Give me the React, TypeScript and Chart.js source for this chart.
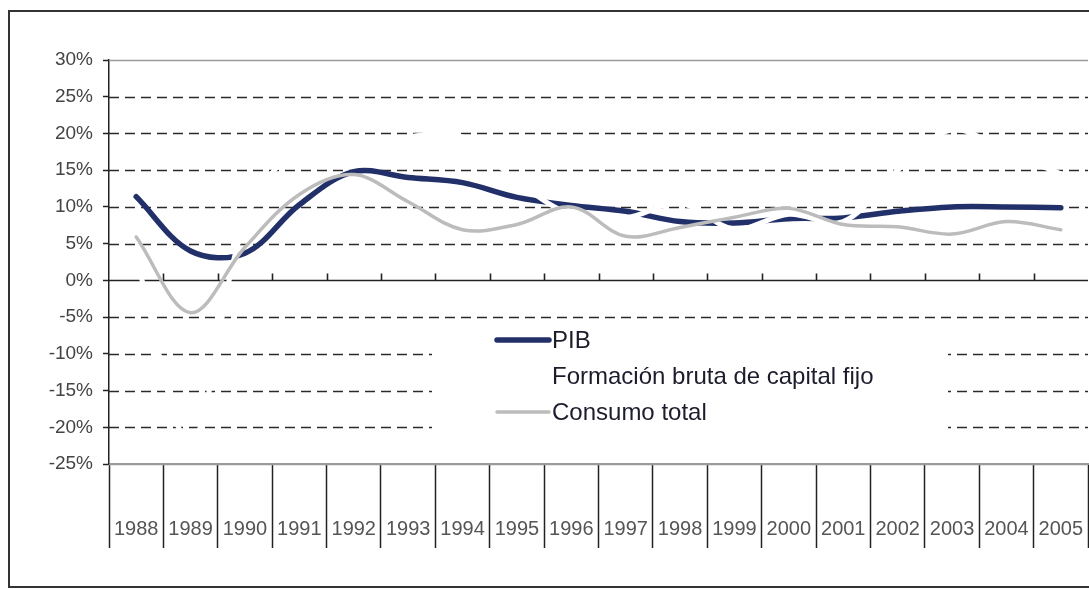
import { useEffect, useRef } from 'react';
import { Chart, registerables } from 'chart.js';

Chart.register(...registerables);

const years = ['1988', '1989', '1990', '1991', '1992', '1993', '1994', '1995', '1996', '1997', '1998', '1999', '2000', '2001', '2002', '2003', '2004', '2005'];
const pib = [11.4, 4.0, 3.7, 10.3, 14.8, 14.0, 13.3, 11.3, 10.2, 9.4, 8.0, 7.8, 8.4, 8.5, 9.4, 10.0, 10.0, 9.9];
const fbcf = [3, -22, 8, 18, 17, 19.5, 19.5, 13.5, 9, 8.5, 10.5, 7, 9, 8, 15, 20.5, 17.5, 14.5];
const consumo = [5.9, -4.4, 4.5, 11.7, 14.4, 10.7, 6.9, 7.6, 10.0, 6.0, 7.2, 8.6, 9.8, 7.6, 7.3, 6.3, 8.0, 6.9];
const yTicks = [30, 25, 20, 15, 10, 5, 0, -5, -10, -15, -20, -25];
const seriesNames = ['PIB', 'Formación bruta de capital fijo', 'Consumo total'];
const seriesColors = ['#22306a', '#ffffff', '#bcbcbc'];
const seriesWidths = [5.5, 5, 3.5];

const FONT = "'Liberation Sans', Arial, sans-serif";

const decor = {
  id: 'decor',
  beforeDraw(chart: any) {
    const ctx = chart.ctx;
    ctx.save();
    ctx.fillStyle = '#ffffff';
    ctx.fillRect(0, 0, chart.width, chart.height);
    ctx.strokeStyle = '#333';
    ctx.lineWidth = 2;
    ctx.strokeRect(9, 11, 1090, 576);
    ctx.restore();
  },
  beforeDatasetsDraw(chart: any) {
    const ctx = chart.ctx;
    const { left, right } = chart.chartArea;
    const ys = chart.scales.y;
    const xs = chart.scales.x;
    ctx.save();
    yTicks.forEach((v) => {
      const py = Math.round(ys.getPixelForValue(v)) + 0.5;
      ctx.beginPath();
      if (v === yTicks[0] || v === yTicks[yTicks.length - 1]) {
        ctx.setLineDash([]);
        ctx.strokeStyle = '#9a9a9a';
        ctx.lineWidth = 1.5;
      } else if (v === 0) {
        return;
      } else {
        ctx.setLineDash([10, 6]);
        ctx.strokeStyle = '#2a2a2a';
        ctx.lineWidth = 1.6;
      }
      ctx.moveTo(left, py);
      ctx.lineTo(right, py);
      ctx.stroke();
    });
    // zero line with upward ticks at category boundaries
    const p0 = Math.round(ys.getPixelForValue(0)) + 0.5;
    ctx.setLineDash([]);
    ctx.strokeStyle = '#222';
    ctx.lineWidth = 1.6;
    ctx.beginPath();
    ctx.moveTo(left, p0);
    ctx.lineTo(right, p0);
    for (let i = 1; i < years.length; i++) {
      const bx = Math.round((xs.getPixelForValue(i - 1) + xs.getPixelForValue(i)) / 2) + 0.5;
      ctx.moveTo(bx, p0);
      ctx.lineTo(bx, p0 - 7);
    }
    ctx.stroke();
    ctx.restore();
  },
  afterDatasetsDraw(chart: any) {
    const ctx = chart.ctx;
    ctx.save();
    ctx.fillStyle = '#ffffff';
    ctx.fillRect(432, 327, 516, 119);
    const lx0 = 497;
    const lx1 = 549;
    const ly0 = 340;
    const step = 36;
    seriesNames.forEach((name, i) => {
      const ly = ly0 + i * step;
      ctx.beginPath();
      ctx.strokeStyle = seriesColors[i];
      ctx.lineWidth = seriesWidths[i];
      ctx.lineCap = 'round';
      ctx.moveTo(lx0, ly);
      ctx.lineTo(lx1, ly);
      ctx.stroke();
      ctx.fillStyle = '#1c1c2c';
      ctx.font = `24px ${FONT}`;
      ctx.textBaseline = 'middle';
      ctx.textAlign = 'left';
      ctx.fillText(name, 552, ly + 1);
    });
    ctx.restore();
  },
};

export default function App() {
  const ref = useRef<HTMLCanvasElement | null>(null);

  useEffect(() => {
    if (!ref.current) return;
    const series = [pib, fbcf, consumo];
    const chart = new Chart(ref.current, {
      type: 'line',
      data: {
        labels: years,
        datasets: series.map((d, i) => ({
          label: seriesNames[i],
          data: d,
          borderColor: seriesColors[i],
          backgroundColor: seriesColors[i],
          borderWidth: seriesWidths[i],
          pointRadius: 0,
          tension: 0.35,
          fill: false,
          borderCapStyle: 'round',
          order: 3 - i,
        })),
      },
      options: {
        responsive: false,
        maintainAspectRatio: false,
        animation: false,
        layout: { padding: { left: 0, top: 60, right: 1, bottom: 41 } },
        plugins: {
          legend: { display: false },
          tooltip: { enabled: false },
        },
        scales: {
          x: {
            type: 'category',
            offset: true,
            grid: {
              display: true,
              offset: true,
              drawOnChartArea: false,
              drawTicks: true,
              tickLength: 84,
              tickColor: '#222',
              tickWidth: 1.5,
            },
            border: { display: true, color: '#9a9a9a', width: 1.5 },
            ticks: {
              color: '#555',
              font: { family: FONT, size: 20 },
              padding: -31,
              maxRotation: 0,
              minRotation: 0,
              autoSkip: false,
            },
            afterFit: (s: any) => {
              s.height = 84;
            },
          },
          y: {
            type: 'linear',
            min: -25,
            max: 30,
            afterBuildTicks: (s: any) => {
              s.ticks = yTicks.map((v) => ({ value: v }));
            },
            ticks: {
              color: '#444',
              font: { family: FONT, size: 19 },
              padding: 10,
              callback: (v: any) => `${v}%`,
            },
            grid: {
              display: true,
              drawOnChartArea: false,
              drawTicks: true,
              tickLength: 6,
              tickColor: '#222',
              tickWidth: 1.5,
            },
            border: { display: true, color: '#222', width: 1.5 },
            afterFit: (s: any) => {
              s.width = 109;
            },
          },
        },
      },
      plugins: [decor],
    });
    return () => chart.destroy();
  }, []);

  return (
    <div style={{ position: 'absolute', left: 0, top: 0, width: 1089, height: 589 }}>
      <canvas ref={ref} width={1089} height={589} style={{ display: 'block' }} />
    </div>
  );
}
